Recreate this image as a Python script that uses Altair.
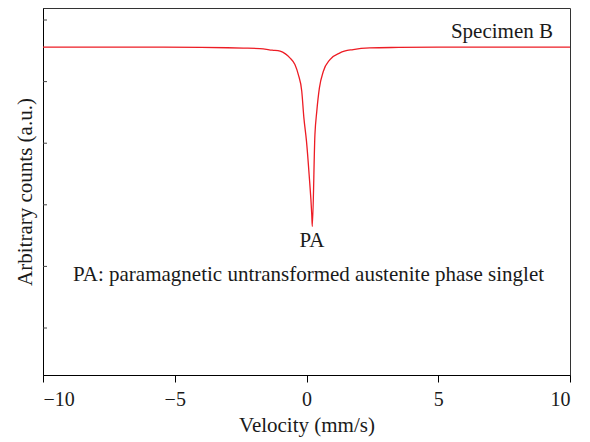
import altair as alt
import pandas as pd

# Mössbauer spectrum
velocity = [-10, -6, -4, -3, -2.4, -1.77, -1.3, -1.0, -0.8, -0.63, -0.44, -0.31,
            -0.18, -0.1, 0.0, 0.1, 0.2, 0.22, 0.32, 0.39, 0.49, 0.64, 0.89, 1.27,
            1.77, 2.4, 3.5, 5, 7, 10]
counts = [45.6, 45.6, 45.55, 45.5, 45.45, 45.37, 45.1, 44.93, 44.5, 43.86, 42.77, 41.14,
          38.43, 34.15, 30.3, 24.88, 18.38, 16.47, 31.4, 35.17, 38.98, 41.68, 43.58, 44.67,
          45.21, 45.48, 45.55, 45.6, 45.6, 45.6]
x_ticks = [-10, -5, 0, 5, 10]
y_ticks = [0, 10, 20, 30, 40, 50]
label_specimen = "Specimen B"
label_peak = "PA"
label_note = "PA: paramagnetic untransformed austenite phase singlet"

FONT = "Liberation Serif"
RED = "#ed1c24"

df = pd.DataFrame({"v": velocity, "c": counts})
xs = alt.Scale(domain=[-10, 10], nice=False, zero=False)
ys = alt.Scale(domain=[-7.63, 51.95], nice=False, zero=False)

line = alt.Chart(df).mark_line(color=RED, strokeWidth=1.3, interpolate="monotone").encode(
    x=alt.X("v:Q", scale=xs,
            axis=alt.Axis(values=x_ticks, title="Velocity (mm/s)", tickSize=7,
                          labelPadding=7, titlePadding=5, grid=False)),
    y=alt.Y("c:Q", scale=ys,
            axis=alt.Axis(values=y_ticks, labels=False, ticks=False,
                          title="Arbitrary counts (a.u.)", titlePadding=8, grid=False)),
)

yt = alt.Chart(pd.DataFrame({"t": y_ticks})).mark_rule(color="#444", strokeWidth=1).encode(
    y=alt.Y("t:Q", scale=ys), x=alt.value(0), x2=alt.value(4)
)

def txt(s, xv, yv, align):
    return alt.Chart(pd.DataFrame({"s": [s]})).mark_text(
        font=FONT, fontSize=21, color="#1a1a1a", align=align, baseline="alphabetic"
    ).encode(text="s:N", x=alt.datum(xv, scale=xs) if False else alt.datum(xv), y=alt.datum(yv))

t1 = txt(label_specimen, 9.355, 47.08, "right")
t2 = txt(label_peak, 0.21, 13.15, "center")
t3 = txt(label_note, -8.86, 7.63, "left")

chart = alt.layer(line, yt, t1, t2, t3).properties(
    width=527, height=367,
    autosize=alt.AutoSizeParams(type="none"),
    padding={"left": 43, "top": 8, "right": 20, "bottom": 67},
).configure_view(stroke="#333", strokeWidth=1).configure_axis(
    labelFont=FONT, titleFont=FONT, labelFontSize=20, titleFontSize=21,
    labelColor="#1a1a1a", titleColor="#1a1a1a", domainColor="black",
    tickColor="black", titleFontWeight="normal", grid=False,
)

chart.save("out.html", embed_options={"renderer": "svg", "actions": False})
